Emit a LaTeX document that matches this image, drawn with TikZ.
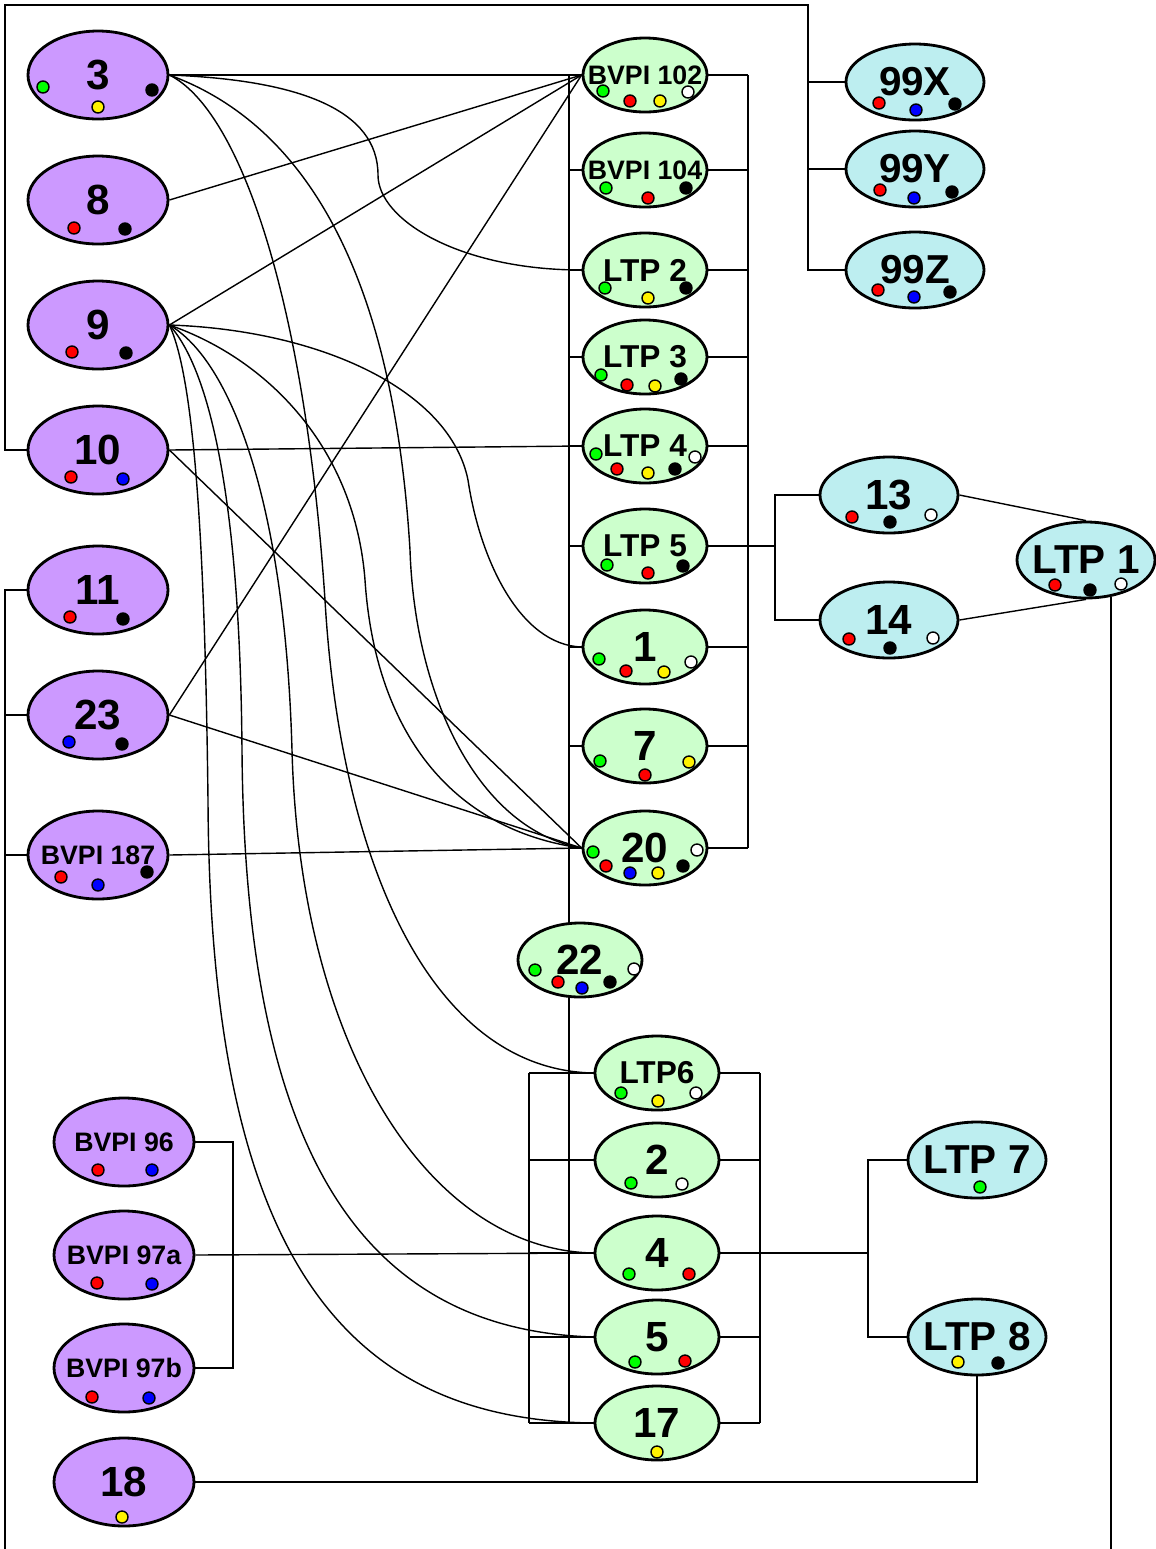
\documentclass[tikz,border=0pt]{standalone}
\usepackage{fontspec}
\setmainfont{Liberation Sans}
\usepackage{tikz}
\usetikzlibrary{shapes.geometric,backgrounds}

\definecolor{lilac}{HTML}{CC99FF}
\definecolor{mint}{HTML}{CCFFCC}
\definecolor{aqua}{HTML}{BDEEF0}
\definecolor{lime}{HTML}{00FF00}

\begin{document}
\begin{tikzpicture}[line width=0.6pt,
  lilacnode/.style={ellipse, draw=black, fill=lilac, line width=0.8pt, minimum width=1.40cm, minimum height=0.88cm, inner sep=0pt},
  mintnode/.style={ellipse, draw=black, fill=mint, line width=0.8pt, minimum width=1.24cm, minimum height=0.74cm, inner sep=0pt},
  aquanode/.style={ellipse, draw=black, fill=aqua, line width=0.8pt, minimum width=1.38cm, minimum height=0.76cm, inner sep=0pt},
  bignum/.style={font=\fontsize{12}{12}\selectfont\bfseries},
  bigltp/.style={font=\fontsize{11.5}{12}\selectfont\bfseries},
  midltp/.style={font=\fontsize{9}{10}\selectfont\bfseries},
  smallbv/.style={font=\fontsize{7.6}{8}\selectfont\bfseries},
  spot/.style={fill=#1, draw=black, line width=0.4pt}]
  \useasboundingbox (0,0) rectangle (11.56,-15.49);

  % left column
  \node[lilacnode, label={[bignum]center:3}] (n3) at (0.98,-0.75) {};
  \node[lilacnode, label={[bignum]center:8}] (n8) at (0.98,-2.00) {};
  \node[lilacnode, label={[bignum]center:9}] (n9) at (0.98,-3.25) {};
  \node[lilacnode, label={[bignum]center:10}] (n10) at (0.98,-4.50) {};
  \node[lilacnode, label={[bignum]center:11}] (n11) at (0.98,-5.90) {};
  \node[lilacnode, label={[bignum]center:23}] (n23) at (0.98,-7.15) {};
  \node[lilacnode, label={[smallbv]center:BVPI 187}] (b187) at (0.98,-8.55) {};
  \node[lilacnode, label={[smallbv]center:BVPI 96}] (b96) at (1.24,-11.42) {};
  \node[lilacnode, label={[smallbv]center:BVPI 97a}] (b97a) at (1.24,-12.55) {};
  \node[lilacnode, label={[smallbv]center:BVPI 97b}] (b97b) at (1.24,-13.68) {};
  \node[lilacnode, label={[bignum]center:18}] (n18) at (1.24,-14.82) {};

  % middle column
  \node[mintnode, label={[smallbv]center:BVPI 102}] (b102) at (6.45,-0.75) {};
  \node[mintnode, label={[smallbv]center:BVPI 104}] (b104) at (6.45,-1.70) {};
  \node[mintnode, label={[midltp]center:LTP 2}] (l2) at (6.45,-2.70) {};
  \node[mintnode, label={[midltp]center:LTP 3}] (l3) at (6.45,-3.57) {};
  \node[mintnode, label={[midltp]center:LTP 4}] (l4) at (6.45,-4.46) {};
  \node[mintnode, label={[midltp]center:LTP 5}] (l5) at (6.45,-5.46) {};
  \node[mintnode, label={[bignum]center:1}] (g1) at (6.45,-6.47) {};
  \node[mintnode, label={[bignum]center:7}] (g7) at (6.45,-7.46) {};
  \node[mintnode, label={[bignum]center:20}] (g20) at (6.45,-8.48) {};
  \node[mintnode, label={[bignum]center:22}] (g22) at (5.80,-9.60) {};
  \node[mintnode, label={[midltp]center:LTP6}] (l6) at (6.57,-10.73) {};
  \node[mintnode, label={[bignum]center:2}] (g2) at (6.57,-11.60) {};
  \node[mintnode, label={[bignum]center:4}] (g4) at (6.57,-12.53) {};
  \node[mintnode, label={[bignum]center:5}] (g5) at (6.57,-13.37) {};
  \node[mintnode, label={[bignum]center:17}] (g17) at (6.57,-14.23) {};

  % right side
  \node[aquanode, label={[bigltp]center:99X}] (x99) at (9.15,-0.82) {};
  \node[aquanode, label={[bigltp]center:99Y}] (y99) at (9.15,-1.69) {};
  \node[aquanode, label={[bigltp]center:99Z}] (z99) at (9.15,-2.70) {};
  \node[aquanode, label={[bignum]center:13}] (c13) at (8.89,-4.95) {};
  \node[aquanode, label={[bignum]center:14}] (c14) at (8.89,-6.20) {};
  \node[aquanode, label={[bigltp]center:LTP 1}] (l1) at (10.86,-5.60) {};
  \node[aquanode, label={[bigltp]center:LTP 7}] (l7) at (9.77,-11.60) {};
  \node[aquanode, label={[bigltp]center:LTP 8}] (l8) at (9.77,-13.37) {};

  \coordinate (topL) at (0.05,-0.05);
  \coordinate (topR) at (8.08,-0.05);
  \coordinate (botL) at (0.05,-15.49);
  \coordinate (botR) at (11.10,-15.49);
  \coordinate (busL) at (5.69,0);
  \coordinate (busR) at (7.48,0);
  \coordinate (busLL) at (5.29,0);
  \coordinate (busLR) at (7.60,0);
  \coordinate (fork5) at (7.75,0);
  \coordinate (fork4) at (8.68,0);
  \coordinate (fork96) at (2.33,0);

  \begin{scope}[on background layer]
    % straight links
    \draw (n3.east) -- (b102.west);
    \draw (n8.east) -- (b102.west);
    \draw (n9.east) -- (b102.west);
    \draw (n23.east) -- (b102.west);
    \draw (n10.east) -- (l4.west);
    \draw (n10.east) -- (g20.west);
    \draw (n23.east) -- (g20.west);
    \draw (b187.east) -- (g20.west);
    \draw (b97a.east) -- (g4.west);
    % curved links
    \draw (n3.east) .. controls (3.0,-0.8) and (3.78,-1.1) .. (3.78,-1.75) .. controls (3.78,-2.2) and (4.6,-2.7) .. (l2.west);
    \draw (n3.east) .. controls (2.4,-1.1) and (3.05,-3.0) .. (3.25,-6.0) .. controls (3.4,-8.6) and (4.3,-10.7) .. (l6.west);
    \draw (n3.east) .. controls (3.2,-1.3) and (3.95,-3.0) .. (4.1,-5.5) .. controls (4.15,-7.0) and (4.8,-8.3) .. (g20.west);
    \draw (n9.east) .. controls (3.2,-3.3) and (4.5,-3.9) .. (4.68,-4.8) .. controls (4.8,-5.6) and (5.2,-6.45) .. (g1.west);
    \draw (n9.east) .. controls (2.7,-3.6) and (3.55,-4.5) .. (3.65,-5.8) .. controls (3.75,-7.3) and (4.5,-8.3) .. (g20.west);
    \draw (n9.east) .. controls (2.3,-3.6) and (2.85,-5.0) .. (2.92,-7.5) .. controls (3.0,-10.5) and (4.3,-12.5) .. (g4.west);
    \draw (n9.east) .. controls (2.1,-3.7) and (2.4,-5.0) .. (2.42,-7.5) .. controls (2.45,-11.5) and (3.6,-13.3) .. (g5.west);
    \draw (n9.east) .. controls (1.95,-3.8) and (2.05,-5.5) .. (2.08,-8.0) .. controls (2.1,-12.5) and (3.4,-14.2) .. (g17.west);
    % buses
    \draw (n10.west) -| (topL) -- (topR) |- (z99.west);
    \draw (x99.west) -- (x99.west -| topR);
    \draw (y99.west) -- (y99.west -| topR);
    \draw (n11.west) -| (botL);
    \draw (n23.west) -- (n23.west -| botL);
    \draw (b187.west) -- (b187.west -| botL);
    \draw (b102.west -| busL) -- (g17.west -| busL);
    \draw (b102.east -| busR) -- (g20.east -| busR);
    \foreach \n in {b102,b104,l2,l3,l4,l5,g1,g7,g20} {
      \draw (\n.west) -- (\n.west -| busL);
      \draw (\n.east) -- (\n.east -| busR);
    }
    \draw (l6.west -| busLL) -- (g17.west -| busLL);
    \draw (l6.east -| busLR) -- (g17.east -| busLR);
    \foreach \n in {l6,g2,g4,g5,g17} {
      \draw (\n.west) -- (\n.west -| busLL);
      \draw (\n.east) -- (\n.east -| busLR);
    }
    \draw (l5.east) -- (l5.east -| fork5);
    \draw (c13.west) -| (fork5 |- c14.west) -- (c14.west);
    \draw (c13.east) -- (l1.north);
    \draw (c14.east) -- (l1.south);
    \draw (l1.-56) -- (l1.-56 |- botR);
    \draw (g4.east) -- (g4.east -| fork4);
    \draw (l7.west) -| (fork4 |- l8.west) -- (l8.west);
    \draw (l8.south) |- (n18.east);
    \draw (b96.east) -| (fork96 |- b97b.east) -- (b97b.east);
  \end{scope}

  % coloured spots
  \foreach \c/\x/\y in {lime/-.55/-.12, yellow/0/-.32, black/.54/-.15}
    \filldraw[spot=\c] ([shift={(\x,\y)}]n3.center) circle (0.06);
  \foreach \c/\x/\y in {red/-.24/-.28, black/.27/-.29}
    \filldraw[spot=\c] ([shift={(\x,\y)}]n8.center) circle (0.06);
  \foreach \c/\x/\y in {red/-.26/-.27, black/.28/-.28}
    \filldraw[spot=\c] ([shift={(\x,\y)}]n9.center) circle (0.06);
  \foreach \c/\x/\y in {red/-.27/-.27, blue/.25/-.29}
    \filldraw[spot=\c] ([shift={(\x,\y)}]n10.center) circle (0.06);
  \foreach \c/\x/\y in {red/-.28/-.27, black/.25/-.29}
    \filldraw[spot=\c] ([shift={(\x,\y)}]n11.center) circle (0.06);
  \foreach \c/\x/\y in {blue/-.29/-.27, black/.24/-.29}
    \filldraw[spot=\c] ([shift={(\x,\y)}]n23.center) circle (0.06);
  \foreach \c/\x/\y in {red/-.37/-.22, blue/0/-.30, black/.49/-.17}
    \filldraw[spot=\c] ([shift={(\x,\y)}]b187.center) circle (0.06);
  \foreach \c/\x/\y in {red/-.26/-.28, blue/.28/-.28}
    \filldraw[spot=\c] ([shift={(\x,\y)}]b96.center) circle (0.06);
  \foreach \c/\x/\y in {red/-.27/-.28, blue/.28/-.29}
    \filldraw[spot=\c] ([shift={(\x,\y)}]b97a.center) circle (0.06);
  \foreach \c/\x/\y in {red/-.32/-.29, blue/.25/-.30}
    \filldraw[spot=\c] ([shift={(\x,\y)}]b97b.center) circle (0.06);
  \foreach \c/\x/\y in {yellow/-.02/-.35}
    \filldraw[spot=\c] ([shift={(\x,\y)}]n18.center) circle (0.06);
  \foreach \c/\x/\y in {lime/-.42/-.16, red/-.15/-.26, yellow/.15/-.26, white/.43/-.17}
    \filldraw[spot=\c] ([shift={(\x,\y)}]b102.center) circle (0.06);
  \foreach \c/\x/\y in {lime/-.39/-.18, red/.03/-.28, black/.41/-.18}
    \filldraw[spot=\c] ([shift={(\x,\y)}]b104.center) circle (0.06);
  \foreach \c/\x/\y in {lime/-.40/-.18, yellow/.03/-.28, black/.41/-.18}
    \filldraw[spot=\c] ([shift={(\x,\y)}]l2.center) circle (0.06);
  \foreach \c/\x/\y in {lime/-.44/-.18, red/-.18/-.28, yellow/.10/-.29, black/.36/-.22}
    \filldraw[spot=\c] ([shift={(\x,\y)}]l3.center) circle (0.06);
  \foreach \c/\x/\y in {lime/-.49/-.08, red/-.28/-.23, yellow/.03/-.27, black/.30/-.23, white/.50/-.11}
    \filldraw[spot=\c] ([shift={(\x,\y)}]l4.center) circle (0.06);
  \foreach \c/\x/\y in {lime/-.38/-.19, red/.03/-.27, black/.38/-.20}
    \filldraw[spot=\c] ([shift={(\x,\y)}]l5.center) circle (0.06);
  \foreach \c/\x/\y in {lime/-.46/-.12, red/-.19/-.24, yellow/.19/-.25, white/.46/-.15}
    \filldraw[spot=\c] ([shift={(\x,\y)}]g1.center) circle (0.06);
  \foreach \c/\x/\y in {lime/-.45/-.15, red/0/-.29, yellow/.44/-.16}
    \filldraw[spot=\c] ([shift={(\x,\y)}]g7.center) circle (0.06);
  \foreach \c/\x/\y in {lime/-.52/-.04, red/-.39/-.18, blue/-.15/-.25, yellow/.13/-.25, black/.38/-.18, white/.52/-.02}
    \filldraw[spot=\c] ([shift={(\x,\y)}]g20.center) circle (0.06);
  \foreach \c/\x/\y in {lime/-.45/-.10, red/-.22/-.22, blue/.02/-.28, black/.30/-.22, white/.54/-.09}
    \filldraw[spot=\c] ([shift={(\x,\y)}]g22.center) circle (0.06);
  \foreach \c/\x/\y in {lime/-.36/-.20, yellow/.01/-.28, white/.39/-.20}
    \filldraw[spot=\c] ([shift={(\x,\y)}]l6.center) circle (0.06);
  \foreach \c/\x/\y in {lime/-.26/-.23, white/.25/-.24}
    \filldraw[spot=\c] ([shift={(\x,\y)}]g2.center) circle (0.06);
  \foreach \c/\x/\y in {lime/-.28/-.21, red/.32/-.21}
    \filldraw[spot=\c] ([shift={(\x,\y)}]g4.center) circle (0.06);
  \foreach \c/\x/\y in {lime/-.22/-.25, red/.28/-.24}
    \filldraw[spot=\c] ([shift={(\x,\y)}]g5.center) circle (0.06);
  \foreach \c/\x/\y in {yellow/0/-.29}
    \filldraw[spot=\c] ([shift={(\x,\y)}]g17.center) circle (0.06);
  \foreach \c/\x/\y in {red/-.36/-.21, blue/.01/-.28, black/.40/-.22}
    \filldraw[spot=\c] ([shift={(\x,\y)}]x99.center) circle (0.06);
  \foreach \c/\x/\y in {red/-.35/-.21, blue/-.01/-.29, black/.37/-.23}
    \filldraw[spot=\c] ([shift={(\x,\y)}]y99.center) circle (0.06);
  \foreach \c/\x/\y in {red/-.37/-.20, blue/-.01/-.27, black/.35/-.22}
    \filldraw[spot=\c] ([shift={(\x,\y)}]z99.center) circle (0.06);
  \foreach \c/\x/\y in {red/-.37/-.22, black/.01/-.27, white/.42/-.20}
    \filldraw[spot=\c] ([shift={(\x,\y)}]c13.center) circle (0.06);
  \foreach \c/\x/\y in {red/-.40/-.19, black/.01/-.28, white/.44/-.18}
    \filldraw[spot=\c] ([shift={(\x,\y)}]c14.center) circle (0.06);
  \foreach \c/\x/\y in {red/-.31/-.25, black/.04/-.30, white/.35/-.24}
    \filldraw[spot=\c] ([shift={(\x,\y)}]l1.center) circle (0.06);
  \foreach \c/\x/\y in {lime/.03/-.27}
    \filldraw[spot=\c] ([shift={(\x,\y)}]l7.center) circle (0.06);
  \foreach \c/\x/\y in {yellow/-.19/-.25, black/.21/-.26}
    \filldraw[spot=\c] ([shift={(\x,\y)}]l8.center) circle (0.06);
\end{tikzpicture}
\end{document}
